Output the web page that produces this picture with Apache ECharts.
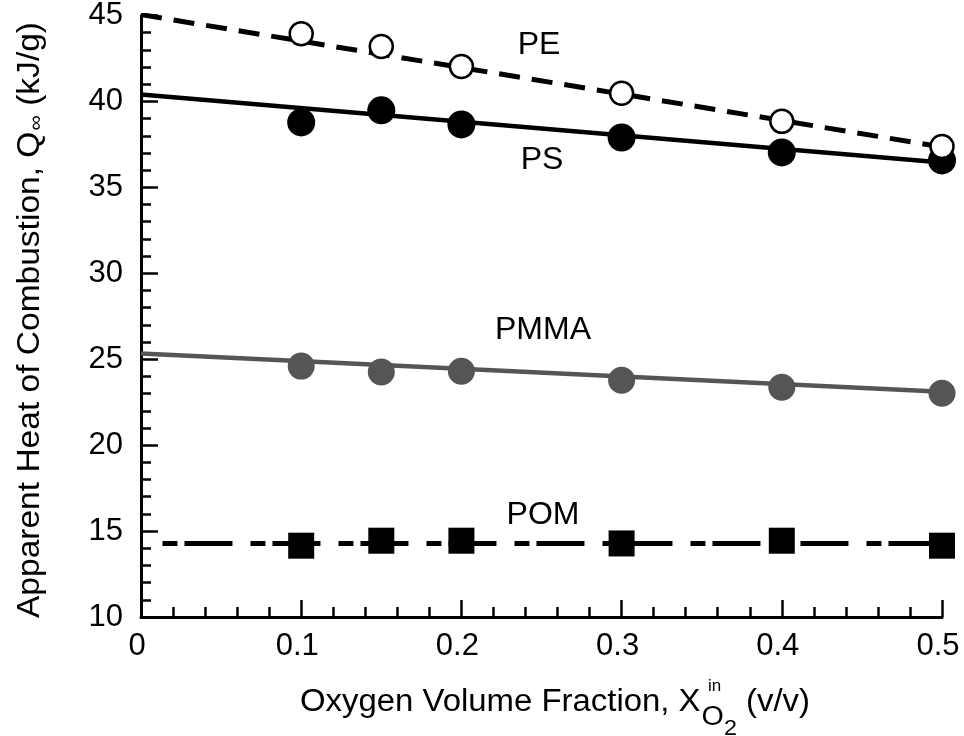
<!DOCTYPE html>
<html>
<head>
<meta charset="utf-8">
<script src="https://cdn.jsdelivr.net/npm/echarts@6/dist/echarts.min.js"></script>
<style>html,body{margin:0;padding:0;background:#fff}#main{width:964px;height:736px}</style>
</head>
<body>
<div id="main"></div>
<script>
// ---- data ----
const xValues = [0.1, 0.15, 0.2, 0.3, 0.4, 0.5];
const pe   = [43.94, 43.2, 42.03, 40.47, 38.84, 37.38];
const ps   = [38.78, 39.48, 38.66, 37.9, 37.03, 36.57];
const pmma = [24.6, 24.26, 24.3, 23.78, 23.37, 23.02];
const pom  = [14.15, 14.44, 14.44, 14.28, 14.44, 14.15];
const peFit   = [[0, 45.05], [0.5, 37.35]];
const psFit   = [[0, 40.4], [0.5, 36.45]];
const pmmaFit = [[0, 25.33], [0.5, 23.1]];
const pomFit  = [[0.0134, 14.28], [0.5, 14.28]];
const xTicks = [0, 0.1, 0.2, 0.3, 0.4, 0.5];
const yTicks = [10, 15, 20, 25, 30, 35, 40, 45];
const curveLabels = ['PE', 'PS', 'PMMA', 'POM'];

const FONT = '"Liberation Sans", Arial, Helvetica, sans-serif';
const mctx = document.createElement('canvas').getContext('2d');
function tw(t, s) { mctx.font = s + 'px ' + FONT; return mctx.measureText(t).width; }
const pts = arr => xValues.map((x, i) => [x, arr[i]]);

const chart = echarts.init(document.getElementById('main'));

// x title pieces
const TF = 31;
const xMain = 'Oxygen Volume Fraction, X', xTail = ' (v/v)';
const wMain = tw(xMain, TF), wO = tw('O', 27), w2 = tw('2', 22), wTail = tw(xTail, TF);
const xTotal = wMain + 1 + wO + w2 + wTail;
const xScale = 510 / xTotal;
// y title pieces
const yMain = 'Apparent Heat of Combustion, Q', yTail = ' (kJ/g)';
const wyMain = tw(yMain, TF), wInf = tw('\u221E', 20), wyTail = tw(yTail, TF);
const yTotal = wyMain + 1 + wInf + wyTail;
const yScale = 596 / yTotal;

const txt = (x, y, text, size, extra) => Object.assign({
  type: 'text', x: x, y: y,
  style: { text: text, fontSize: size, fontFamily: FONT, fill: '#000', align: 'left', verticalAlign: 'middle' }
}, extra || {});

const labelStyle = { fontSize: 32, fontFamily: FONT, fill: '#000', align: 'center', verticalAlign: 'middle' };

chart.setOption({
  animation: false,
  backgroundColor: '#fff',
  grid: { left: 141, top: 15, width: 801, height: 602 },
  xAxis: {
    type: 'value', min: 0, max: 0.5, interval: 0.1,
    axisLine: { lineStyle: { color: '#000', width: 3 } },
    axisTick: { inside: true, length: 17, lineStyle: { color: '#000', width: 2.5 } },
    minorTick: { show: true, splitNumber: 5, length: 10, lineStyle: { color: '#000', width: 2.5 } },
    splitLine: { show: false }, minorSplitLine: { show: false },
    axisLabel: { fontSize: 31, fontFamily: FONT, color: '#000', margin: 14, padding: [0, 8, 0, 0],
      formatter: v => { const t = xTicks.find(k => Math.abs(k - v) < 1e-9); return t === 0 ? '0' : t.toFixed(1); } }
  },
  yAxis: {
    type: 'value', min: 10, max: 45, interval: 5,
    axisLine: { lineStyle: { color: '#000', width: 3 } },
    axisTick: { inside: true, length: 17, lineStyle: { color: '#000', width: 2.5 } },
    minorTick: { show: true, splitNumber: 5, length: 10, lineStyle: { color: '#000', width: 2.5 } },
    splitLine: { show: false }, minorSplitLine: { show: false },
    axisLabel: { fontSize: 31, fontFamily: FONT, color: '#000', margin: 18, padding: [6, 0, 0, 0],
      formatter: v => String(yTicks.find(k => Math.abs(k - v) < 1e-9)) }
  },
  series: [
    { type: 'line', data: pomFit, symbol: 'none', z: 2, lineStyle: { color: '#000', width: 5, type: [15, 7, 48, 18] } },
    { type: 'line', data: pmmaFit, symbol: 'none', z: 2, lineStyle: { color: '#555555', width: 4.5, type: 'solid' } },
    { type: 'line', data: psFit, symbol: 'none', z: 2, lineStyle: { color: '#000', width: 4.5, type: 'solid' } },
    { type: 'line', data: peFit, symbol: 'none', z: 2, lineStyle: { color: '#000', width: 5, type: [21, 12] } },
    { type: 'scatter', data: pts(pom), symbol: 'rect', symbolSize: 26, z: 3, itemStyle: { color: '#000', opacity: 1 } },
    { type: 'scatter', data: pts(pmma), symbol: 'circle', symbolSize: 27, z: 3, itemStyle: { color: '#555555', opacity: 1 } },
    { type: 'scatter', data: pts(ps), symbol: 'circle', symbolSize: 28, z: 3, itemStyle: { color: '#000', opacity: 1 } },
    { type: 'scatter', data: pts(pe), symbol: 'circle', symbolSize: 23, z: 4, itemStyle: { color: '#fff', borderColor: '#000', borderWidth: 2.5, opacity: 1 } }
  ],
  graphic: [
    { type: 'group', x: 300, y: 702, scaleX: xScale, children: [
      txt(0, 0, xMain, TF),
      txt(wMain + 1, 16, 'O', 27),
      txt(wMain + 1 + wO, 27, '2', 22),
      txt(wMain + 7, -15, 'in', 16),
      txt(wMain + 1 + wO + w2, 0, xTail, TF)
    ]},
    { type: 'group', x: 30, y: 618, rotation: Math.PI / 2, scaleX: yScale, children: [
      txt(0, 0, yMain, TF),
      txt(wyMain + 1, 6, '\u221E', 20),
      txt(wyMain + 1 + wInf, 0, yTail, TF)
    ]},
    { type: 'text', x: 539, y: 45, style: Object.assign({ text: curveLabels[0] }, labelStyle) },
    { type: 'text', x: 542, y: 160, style: Object.assign({ text: curveLabels[1] }, labelStyle) },
    { type: 'text', x: 543, y: 330, style: Object.assign({ text: curveLabels[2] }, labelStyle) },
    { type: 'text', x: 543, y: 515, style: Object.assign({ text: curveLabels[3] }, labelStyle) }
  ]
});
</script>
</body>
</html>
